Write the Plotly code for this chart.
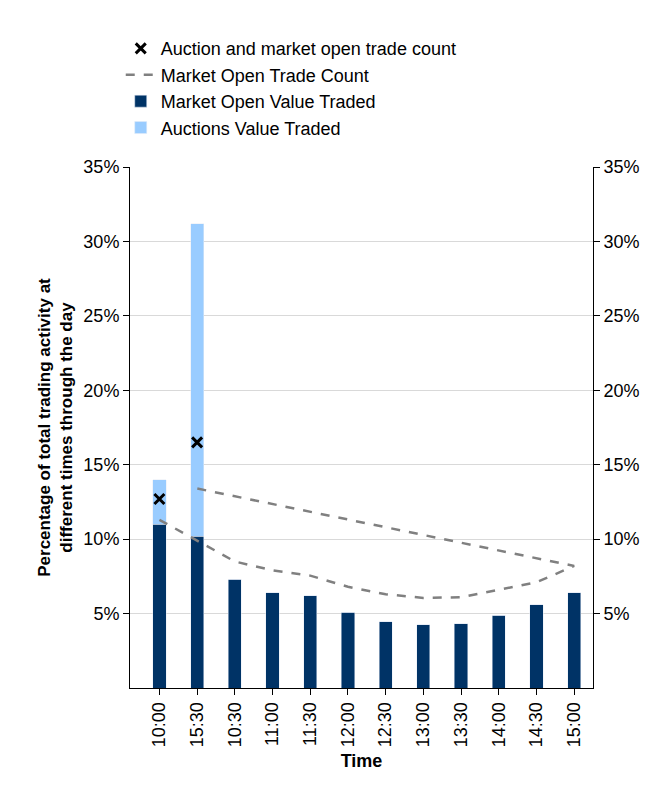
import plotly.graph_objects as go

times = ["10:00", "10:30", "11:00", "11:30", "12:00", "12:30", "13:00", "13:30", "14:00", "14:30", "15:00", "15:30"]
market_value = [11.0, 7.3, 6.4, 6.2, 5.1, 4.45, 4.25, 4.3, 4.9, 5.6, 6.4, 10.2]
auction_value = [3.0, 0, 0, 0, 0, 0, 0, 0, 0, 0, 0, 21.0]
market_count = [11.3, 8.5, 7.9, 7.55, 6.8, 6.3, 6.05, 6.1, 6.6, 7.1, 8.2, 13.4]
cross_times = ["10:00", "15:30"]
cross_count = [12.7, 16.5]
pct_ticks = [5, 10, 15, 20, 25, 30, 35]

fig = go.Figure()
fig.add_trace(go.Scatter(x=cross_times, y=cross_count, mode="markers", name="Auction and market open trade count",
                         marker=dict(symbol="x-thin", size=10, color="black", line=dict(width=3, color="black"))))
fig.add_trace(go.Scatter(x=times, y=market_count, mode="lines", name="Market Open Trade Count",
                         line=dict(color="#808080", dash="dash", width=2.5)))
fig.add_trace(go.Bar(x=times, y=market_value, name="Market Open Value Traded", marker_color="#003366", width=0.35))
fig.add_trace(go.Bar(x=times, y=auction_value, name="Auctions Value Traded", marker_color="#99ccff", width=0.35))
# invisible trace so the right-hand axis is drawn
fig.add_trace(go.Scatter(x=times, y=market_count, yaxis="y2", mode="lines", line=dict(width=0),
                         showlegend=False, hoverinfo="skip"))

fig.update_layout(
    width=657, height=789, barmode="stack", plot_bgcolor="white", paper_bgcolor="white",
    font=dict(family="Liberation Sans, Arial", size=18, color="black"),
    margin=dict(l=122, r=72, t=159, b=109),
    legend=dict(x=-0.02, y=1.04, yanchor="bottom", xanchor="left", traceorder="normal",
                font=dict(size=18), tracegroupgap=0, bgcolor="rgba(0,0,0,0)"),
    xaxis=dict(title=dict(text="<b>Time</b>", font=dict(size=18), standoff=8), tickangle=-90, showline=True,
               linecolor="black", ticks="outside", ticklen=6, tickcolor="black"),
    yaxis=dict(range=[0, 35], tickvals=pct_ticks, ticktext=[f"{v}%" for v in pct_ticks],
               showgrid=True, gridcolor="#d9d9d9", showline=True, linecolor="black", ticks="outside",
               ticklen=6, tickcolor="black", zeroline=False,
               title=dict(text="<b>Percentage of total trading activity at<br>different times through the day</b>",
                          font=dict(size=17), standoff=6)),
    yaxis2=dict(range=[0, 35], overlaying="y", side="right", tickvals=pct_ticks,
                ticktext=[f"{v}%" for v in pct_ticks], showgrid=False, showline=True,
                linecolor="black", ticks="outside", ticklen=6, tickcolor="black", zeroline=False),
)
fig.write_html("out.html")
